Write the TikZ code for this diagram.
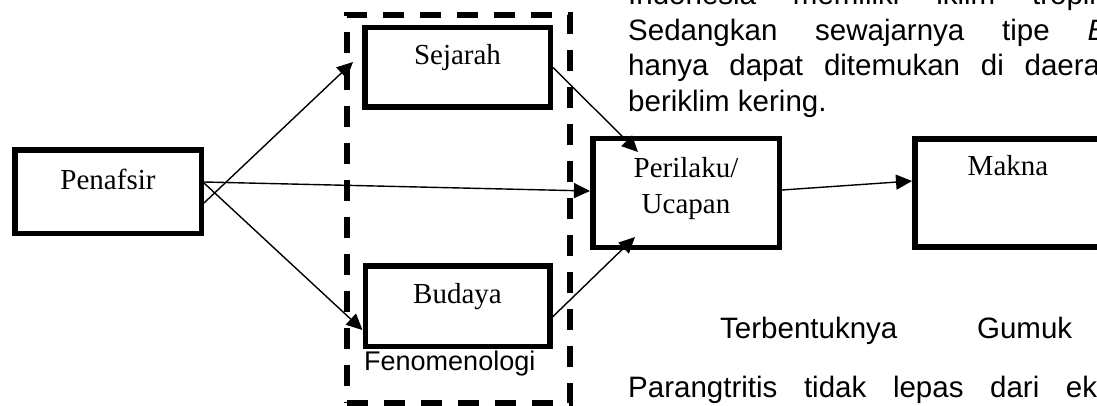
\documentclass[tikz,border=0pt]{standalone}
\usepackage{fontspec}
\setmainfont{Liberation Serif}
\setsansfont{Liberation Sans}
\usetikzlibrary{positioning,arrows.meta}

\begin{document}
\begin{tikzpicture}[x=1pt,y=1pt,
  box/.style={draw,line width=5.5pt,minimum width=186.5pt,inner sep=0pt},
  boxtext/.style={font=\fontsize{29}{36}\selectfont,inner sep=0pt,align=center,anchor=base},
  fenobox/.style={draw,line width=5.5pt,dash pattern=on 21pt off 16pt,
    minimum width=223pt,minimum height=388pt},
  arr/.style={line width=1.4pt,-{Triangle[length=16pt,width=15pt]}},
  bodytext/.style={font=\sffamily\fontsize{29.5}{35}\selectfont,inner sep=0pt,anchor=base west}]

 \useasboundingbox (0,0) rectangle (1097,405);

 % text of the page behind the figure
 \node[bodytext] (line1) at (628,400) {\makebox[492.5pt][s]{Indonesia memiliki iklim tropika}};
 \node[bodytext] (line2) at (628,364.5) {\makebox[479pt][s]{Sedangkan sewajarnya tipe \textit{B}}};
 \node[bodytext] (line3) at (628,329) {\makebox[472pt][s]{hanya dapat ditemukan di daera}};
 \node[bodytext] (line4) at (628,293.5) {beriklim kering.};
 \node[bodytext] (line5) at (720,67) {\makebox[352pt][s]{Terbentuknya Gumuk}};
 \node[bodytext] (line6) at (628,8) {\makebox[469pt][s]{Parangtritis tidak lepas dari ek}};

 \node[fenobox] (feno) at (458.5,196) {};
 \node[font=\sffamily\fontsize{27}{30}\selectfont,inner sep=0pt,anchor=base west] (fenotext) at (364,35) {Fenomenologi};

 \node[box,minimum height=83.5pt] (penafsir) at (108,213.5) {};
 \node[box,minimum width=185.5pt,minimum height=79.5pt] (sejarah) at (457.5,337.5) {};
 \node[box,minimum width=184.5pt,minimum height=80.5pt,below=153pt of sejarah] (budaya) {};
 \node[box,minimum height=108.5pt] (perilaku) at (686,212) {};
 \node[box,minimum height=107.5pt,right=130pt of perilaku] (makna) {};

 \node[boxtext] (penafsirtext) at ([yshift=-42pt]penafsir.north) {Penafsir};
 \node[boxtext] (sejarahtext) at ([yshift=-40pt]sejarah.north) {Sejarah};
 \node[boxtext] (budayatext) at ([yshift=-40pt]budaya.north) {Budaya};
 \node[boxtext] (perilakutext) at ([yshift=-77pt]perilaku.north) {Perilaku/\\Ucapan};
 \node[boxtext] (maknatext) at ([yshift=-39pt]makna.north) {Makna};

 % arrows out of penafsir
 \draw ([yshift=-11.5pt]penafsir.east) edge[arr] ([xshift=-9pt,yshift=5.5pt]sejarah.west)
 ([yshift=8.5pt]penafsir.east) edge[arr] ([yshift=-24pt]budaya.west)
 ([yshift=9.5pt]penafsir.east) edge[arr] ([yshift=2pt]perilaku.west);

 % arrows into perilaku and on to makna
 \draw (sejarah.east) edge[arr] ([xshift=-48pt,yshift=-16pt]perilaku.north)
 ([yshift=-11pt]budaya.east) edge[arr] ([xshift=-51pt,yshift=13pt]perilaku.south)
 ([yshift=3pt]perilaku.east) edge[arr] ([yshift=12pt]makna.west);

\end{tikzpicture}
\end{document}
